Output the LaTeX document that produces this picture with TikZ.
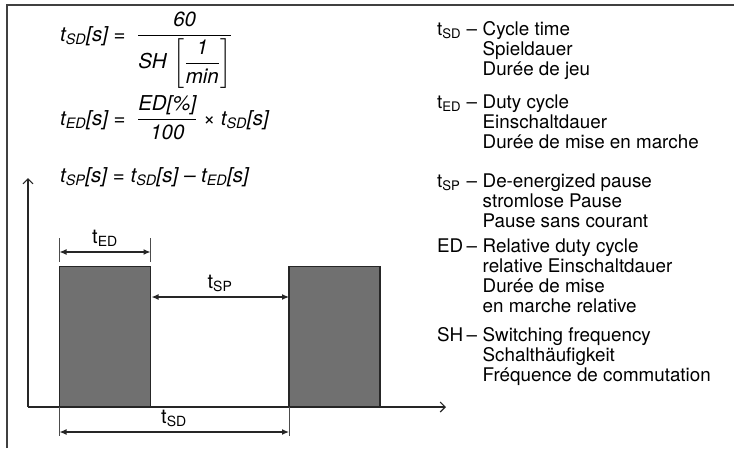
\documentclass[tikz,border=0pt]{standalone}
\usepackage{amsmath}
\usepackage{fontspec}
\setmainfont{TeX Gyre Heros}
\usetikzlibrary{arrows.meta,positioning}
\tikzset{
  frameline/.style={line width=1.6pt,black!75},
  axisarr/.style={-{Straight Barb[length=5pt,width=10pt]},line width=1.1pt,black!85},
  pulsebox/.style={draw=black!85,fill=black!56,line width=1.3pt},
  dimarr/.style={{Latex[length=7pt,width=6pt]}-{Latex[length=7pt,width=6pt]},line width=1.2pt,black!85},
  dimtick/.style={line width=0.8pt,black!70},
  dimlabel/.style={font=\fontsize{20}{22}\selectfont,inner sep=0pt,anchor=base},
  formula/.style={font=\fontsize{20.5}{24}\selectfont,anchor=base west,inner sep=0pt},
  legentry/.style={font=\fontsize{18.8}{20.3}\selectfont,anchor=base west,inner sep=0pt}
}
\newcommand{\tvar}[1]{\text{\itshape t}_{\text{\itshape #1}}}
\newcommand{\itx}[1]{\text{\itshape #1}}
\newcommand{\legrow}[3]{\begin{tabular}[t]{@{}p{29.5pt}@{}p{16pt}@{}l@{}}#1 & – & #2\\#3\end{tabular}}

\begin{document}
\begin{tikzpicture}[x=1pt,y=-1pt]
  \useasboundingbox (0,0) rectangle (734,448);
  % frame
  \draw[frameline] (7,448) -- (7,5) -- (734,5);

  % formulas
  \node[formula] (fSD) at (60,41)
    {$\tvar{SD}\itx{[s] = }\;\dfrac{\itx{60}}{\itx{SH}\,\left[\dfrac{\itx{1}}{\itx{min}}\right]}$};
  \node[formula] (fED) at (60,125)
    {$\tvar{ED}\itx{[s] = }\;\dfrac{\itx{ED[\%]}}{\itx{100}}\itx{ × }\tvar{SD}\itx{[s]}$};
  \node[formula] (fSP) at (60,182)
    {$\tvar{SP}\itx{[s] = }\tvar{SD}\itx{[s] – }\tvar{ED}\itx{[s]}$};

  % axes
  \coordinate (orig) at (28,407);
  \coordinate (ytip) at (28,178);
  \coordinate (xtip) at (446,407);
  \draw[axisarr] (orig) -- (ytip);
  \draw[axisarr] (orig) -- (xtip);

  % pulses
  \coordinate (p1a) at (59.5,266.5); \coordinate (p1b) at (150.5,407);
  \coordinate (p2a) at (289,266.5); \coordinate (p2b) at (380,407);
  \draw[pulsebox] (p1a) rectangle (p1b);
  \draw[pulsebox] (p2a) rectangle (p2b);

  % t_ED
  \coordinate (edl) at (59.5,252); \coordinate (edr) at (150.5,252);
  \draw[dimtick] (59.5,238) -- (59.5,262);
  \draw[dimtick] (150.5,238) -- (150.5,262);
  \draw[dimarr] (edl) -- (edr);
  \node[dimlabel] (lED) at (105,243) {t\textsubscript{ED}};

  % t_SP
  \coordinate (spl) at (151.5,297); \coordinate (spr) at (289,297);
  \draw[dimarr] (spl) -- (spr);
  \node[dimlabel] (lSP) at (220,288) {t\textsubscript{SP}};

  % t_SD
  \coordinate (sdl) at (59.5,432); \coordinate (sdr) at (289,432);
  \draw[dimtick] (59.5,407) -- (59.5,436);
  \draw[dimtick] (289,407) -- (289,436);
  \draw[dimarr] (sdl) -- (sdr);
  \node[dimlabel] (lSD) at (174,423) {t\textsubscript{SD}};

  % legend
  \node[legentry] (legSD) at (437,35)
    {\legrow{t\textsubscript{SD}}{Cycle time}{& & Spieldauer\\ & & Durée de jeu}};
  \node[legentry] (legED) at (437,108)
    {\legrow{t\textsubscript{ED}}{Duty cycle}{& & Einschaltdauer\\ & & Durée de mise en marche}};
  \node[legentry] (legSP) at (437,187)
    {\legrow{t\textsubscript{SP}}{De-energized pause}{& & stromlose Pause\\ & & Pause sans courant}};
  \node[legentry] (legRD) at (437,252)
    {\legrow{ED}{Relative duty cycle}{& & relative Einschaltdauer\\ & & Durée de mise\\ & & en marche relative}};
  \node[legentry] (legSH) at (437,341)
    {\legrow{SH}{Switching frequency}{& & Schalthäufigkeit\\ & & Fréquence de commutation}};
\end{tikzpicture}
\end{document}
